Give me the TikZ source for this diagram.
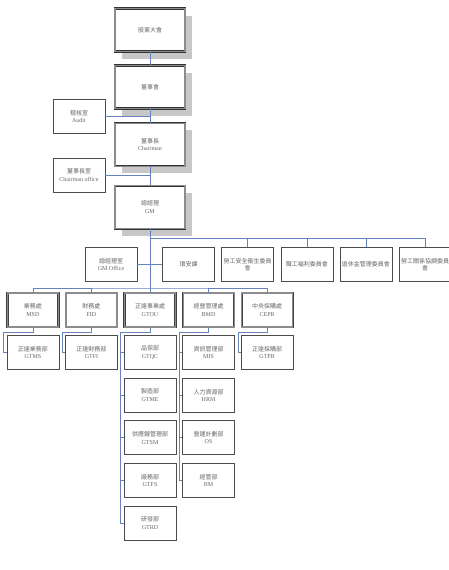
\documentclass[tikz,border=0pt]{standalone}
\usepackage{fontspec}
\setmainfont{Liberation Serif}
\newfontfamily\cjk{Noto Sans CJK TC}
\usetikzlibrary{positioning,shadows}
\definecolor{linkblue}{RGB}{100,130,190}

\begin{document}
\begin{tikzpicture}[
  x=1pt, y=1pt, every node/.style={font=\fontsize{6}{7.4}\selectfont, text=black!60},
  topbox/.style={draw=black!80, line width=0.55pt, double=black!45,
                 double distance=1.1pt, fill=white, minimum width=70pt,
                 minimum height=43pt, align=center, inner sep=1pt,
                 general shadow={fill=black!22, shadow xshift=7pt, shadow yshift=-7pt}},
  divbox/.style={draw=black!75, line width=0.55pt, double=black!45,
                 double distance=1.1pt, fill=white, minimum width=51pt,
                 minimum height=34pt, align=center, inner sep=1pt},
  unitbox/.style={draw=black!70, line width=0.6pt, fill=white,
                  minimum width=52pt, minimum height=34pt, align=center, inner sep=1pt},
  link/.style={draw=linkblue, line width=0.6pt}
]
  \useasboundingbox (0,0) rectangle (449,-570);

  % top of the chart
  \node[topbox] (top) at (150,-30) {\cjk 股東大會};
  \node[topbox, below=13.5pt of top] (board) {\cjk 董事會};
  \node[topbox, below=14pt of board] (chair) {{\cjk 董事長}\\Chairman};
  \node[topbox, below=19pt of chair] (gm) {{\cjk 總經理}\\GM};
  \node[unitbox] (audit) at (79,-116.5) {{\cjk 稽核室}\\Audit};
  \node[unitbox] (choff) at (79,-175) {{\cjk 董事長室}\\Chairman office};

  % offices and committees under the GM
  \node[unitbox] (gmoff) at (111,-264.5) {{\cjk 總經理室}\\GM Office};
  \node[unitbox, right=25pt of gmoff] (safety) {\cjk 環安課};
  \node[unitbox, right=6.5pt of safety] (c1) {\cjk 勞工安全衛生委員\\\cjk 會};
  \node[unitbox, right=6.5pt of c1] (c2) {\cjk 職工福利委員會};
  \node[unitbox, right=6.5pt of c2] (c3) {\cjk 退休金管理委員會};
  \node[unitbox, right=6.5pt of c3] (c4) {\cjk 勞工關係協調委員\\\cjk 會};

  % divisions
  \node[divbox] (gtou) at (150,-310) {{\cjk 正達事業處}\\GTOU};
  \node[divbox, left=7pt of gtou] (fid) {{\cjk 財務處}\\FID};
  \node[divbox, left=7pt of fid] (msd) {{\cjk 業務處}\\MSD};
  \node[divbox, right=7pt of gtou] (bmd) {{\cjk 經營管理處}\\BMD};
  \node[divbox, right=7pt of bmd] (cepr) {{\cjk 中央採購處}\\CEPR};

  % departments
  \node[unitbox, below=8pt of msd] (gtms) {{\cjk 正達業務部}\\GTMS};
  \node[unitbox, below=8pt of fid] (gtfi) {{\cjk 正達財務部}\\GTFI};
  \node[unitbox, below=8pt of cepr] (gtpr) {{\cjk 正達採購部}\\GTPR};
  \node[unitbox, below=8pt of gtou] (gtqc) {{\cjk 品保部}\\GTQC};
  \node[unitbox, below=8pt of gtqc] (gtme) {{\cjk 製造部}\\GTME};
  \node[unitbox, below=8pt of gtme] (gtsm) {{\cjk 供應鏈管理部}\\GTSM};
  \node[unitbox, below=8pt of gtsm] (gtfs) {{\cjk 廠務部}\\GTFS};
  \node[unitbox, below=8pt of gtfs] (gtrd) {{\cjk 研發部}\\GTRD};
  \node[unitbox, below=8pt of bmd] (mis) {{\cjk 資訊管理部}\\MIS};
  \node[unitbox, below=8pt of mis] (hrm) {{\cjk 人力資源部}\\HRM};
  \node[unitbox, below=8pt of hrm] (os) {{\cjk 營運計劃部}\\OS};
  \node[unitbox, below=8pt of os] (bm) {{\cjk 經管部}\\BM};

  % connectors
  \draw[link] (top) -- (board);
  \draw[link] (board) -- (chair);
  \draw[link] (chair) -- (gm);
  \draw[link] (gm) -- (gtou);
  \draw[link] (audit.east) -- (audit.east -| board.south);
  \draw[link] (choff.east) -- (choff.east -| chair.south);
  \draw[link] (gmoff) -- (safety);

  \coordinate (bus1) at (150,-238);
  \draw[link] (bus1) -| (c4.north);
  \foreach \c in {c1,c2,c3}
    \draw[link] (bus1 -| \c.north) -- (\c.north);

  \coordinate (bus2) at (150,-288);
  \draw[link] (msd.north) |- (bus2) -| (cepr.north);
  \foreach \d in {fid,bmd}
    \draw[link] (bus2 -| \d.north) -- (\d.north);

  \draw[link] (msd.south) -- ++(0,-5) -| ([xshift=-3pt]gtms.west) -- (gtms.west);
  \draw[link] (fid.south) -- ++(0,-5) -| ([xshift=-3pt]gtfi.west) -- (gtfi.west);
  \draw[link] (cepr.south) -- ++(0,-5) -| ([xshift=-3pt]gtpr.west) -- (gtpr.west);
  \draw[link] (gtou.south) -- ++(0,-5) -| ([xshift=-3pt]gtrd.west) -- (gtrd.west);
  \foreach \k in {gtqc,gtme,gtsm,gtfs}
    \draw[link] ([xshift=-3pt]\k.west) -- (\k.west);
  \draw[link] (bmd.south) -- ++(0,-5) -| ([xshift=-3pt]bm.west) -- (bm.west);
  \foreach \k in {mis,hrm,os}
    \draw[link] ([xshift=-3pt]\k.west) -- (\k.west);
\end{tikzpicture}
\end{document}
